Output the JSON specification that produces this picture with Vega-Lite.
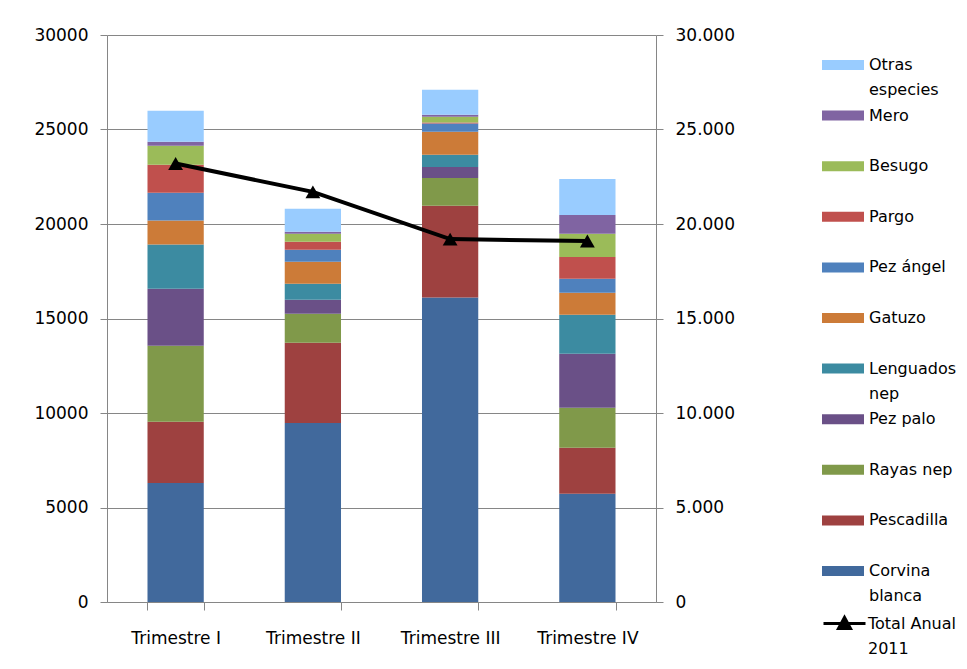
{
  "$schema": "https://vega.github.io/schema/vega-lite/v6.json",
  "width": 549,
  "height": 567,
  "autosize": {"type": "none"},
  "padding": {"left": 107, "top": 35, "right": 311, "bottom": 67},
  "background": "white",
  "config": {
    "font": "DejaVu Sans",
    "view": {"stroke": null},
    "style": {"guide-label": {"lineHeight": 25}},
    "axis": {
      "labelFont": "DejaVu Sans",
      "labelFontSize": 17,
      "labelColor": "#000000",
      "domainColor": "#868686",
      "tickColor": "#868686",
      "gridColor": "#868686",
      "gridOpacity": 1,
      "tickSize": 7,
      "title": null
    },
    "legend": {
      "orient": "none",
      "padding": 0,
      "labelFont": "DejaVu Sans",
      "labelFontSize": 16,
      "labelColor": "#000000",
      "labelLimit": 0,
      "rowPadding": 7.6,
      "labelOffset": 16,
      "symbolSize": 400,
      "title": null
    }
  },
  "datasets": {
    "especies": [
      {"trimestre": "Trimestre I", "especie": "Corvina blanca", "orden": 1, "toneladas": 6300},
      {"trimestre": "Trimestre I", "especie": "Pescadilla", "orden": 2, "toneladas": 3240},
      {"trimestre": "Trimestre I", "especie": "Rayas nep", "orden": 3, "toneladas": 4020},
      {"trimestre": "Trimestre I", "especie": "Pez palo", "orden": 4, "toneladas": 3020},
      {"trimestre": "Trimestre I", "especie": "Lenguados nep", "orden": 5, "toneladas": 2330},
      {"trimestre": "Trimestre I", "especie": "Gatuzo", "orden": 6, "toneladas": 1270},
      {"trimestre": "Trimestre I", "especie": "Pez ángel", "orden": 7, "toneladas": 1480},
      {"trimestre": "Trimestre I", "especie": "Pargo", "orden": 8, "toneladas": 1480},
      {"trimestre": "Trimestre I", "especie": "Besugo", "orden": 9, "toneladas": 1000},
      {"trimestre": "Trimestre I", "especie": "Mero", "orden": 10, "toneladas": 210},
      {"trimestre": "Trimestre I", "especie": "Otras especies", "orden": 11, "toneladas": 1640},
      {"trimestre": "Trimestre II", "especie": "Corvina blanca", "orden": 1, "toneladas": 9470},
      {"trimestre": "Trimestre II", "especie": "Pescadilla", "orden": 2, "toneladas": 4250},
      {"trimestre": "Trimestre II", "especie": "Rayas nep", "orden": 3, "toneladas": 1530},
      {"trimestre": "Trimestre II", "especie": "Pez palo", "orden": 4, "toneladas": 740},
      {"trimestre": "Trimestre II", "especie": "Lenguados nep", "orden": 5, "toneladas": 850},
      {"trimestre": "Trimestre II", "especie": "Gatuzo", "orden": 6, "toneladas": 1160},
      {"trimestre": "Trimestre II", "especie": "Pez ángel", "orden": 7, "toneladas": 640},
      {"trimestre": "Trimestre II", "especie": "Pargo", "orden": 8, "toneladas": 420},
      {"trimestre": "Trimestre II", "especie": "Besugo", "orden": 9, "toneladas": 420},
      {"trimestre": "Trimestre II", "especie": "Mero", "orden": 10, "toneladas": 110},
      {"trimestre": "Trimestre II", "especie": "Otras especies", "orden": 11, "toneladas": 1220},
      {"trimestre": "Trimestre III", "especie": "Corvina blanca", "orden": 1, "toneladas": 16110},
      {"trimestre": "Trimestre III", "especie": "Pescadilla", "orden": 2, "toneladas": 4850},
      {"trimestre": "Trimestre III", "especie": "Rayas nep", "orden": 3, "toneladas": 1480},
      {"trimestre": "Trimestre III", "especie": "Pez palo", "orden": 4, "toneladas": 580},
      {"trimestre": "Trimestre III", "especie": "Lenguados nep", "orden": 5, "toneladas": 640},
      {"trimestre": "Trimestre III", "especie": "Gatuzo", "orden": 6, "toneladas": 1220},
      {"trimestre": "Trimestre III", "especie": "Pez ángel", "orden": 7, "toneladas": 440},
      {"trimestre": "Trimestre III", "especie": "Pargo", "orden": 8, "toneladas": 50},
      {"trimestre": "Trimestre III", "especie": "Besugo", "orden": 9, "toneladas": 300},
      {"trimestre": "Trimestre III", "especie": "Mero", "orden": 10, "toneladas": 110},
      {"trimestre": "Trimestre III", "especie": "Otras especies", "orden": 11, "toneladas": 1320},
      {"trimestre": "Trimestre IV", "especie": "Corvina blanca", "orden": 1, "toneladas": 5730},
      {"trimestre": "Trimestre IV", "especie": "Pescadilla", "orden": 2, "toneladas": 2430},
      {"trimestre": "Trimestre IV", "especie": "Rayas nep", "orden": 3, "toneladas": 2120},
      {"trimestre": "Trimestre IV", "especie": "Pez palo", "orden": 4, "toneladas": 2860},
      {"trimestre": "Trimestre IV", "especie": "Lenguados nep", "orden": 5, "toneladas": 2060},
      {"trimestre": "Trimestre IV", "especie": "Gatuzo", "orden": 6, "toneladas": 1160},
      {"trimestre": "Trimestre IV", "especie": "Pez ángel", "orden": 7, "toneladas": 740},
      {"trimestre": "Trimestre IV", "especie": "Pargo", "orden": 8, "toneladas": 1160},
      {"trimestre": "Trimestre IV", "especie": "Besugo", "orden": 9, "toneladas": 1220},
      {"trimestre": "Trimestre IV", "especie": "Mero", "orden": 10, "toneladas": 1000},
      {"trimestre": "Trimestre IV", "especie": "Otras especies", "orden": 11, "toneladas": 1900}
    ],
    "total": [
      {"trimestre": "Trimestre I", "serie": "Total Anual 2011", "total": 23200},
      {"trimestre": "Trimestre II", "serie": "Total Anual 2011", "total": 21700},
      {"trimestre": "Trimestre III", "serie": "Total Anual 2011", "total": 19200},
      {"trimestre": "Trimestre IV", "serie": "Total Anual 2011", "total": 19100}
    ]
  },
  "layer": [
    {
      "data": {"name": "especies"},
      "mark": {"type": "bar"},
      "encoding": {
        "x": {
          "field": "trimestre",
          "type": "nominal",
          "sort": ["Trimestre I", "Trimestre II", "Trimestre III", "Trimestre IV"],
          "scale": {"paddingInner": 0.59, "paddingOuter": 0.295},
          "axis": {"labelAngle": 0, "tickBand": "extent", "labelPadding": 20, "tickSize": 8, "grid": false}
        },
        "y": {
          "field": "toneladas",
          "type": "quantitative",
          "stack": "zero",
          "scale": {"domain": [0, 30000], "nice": false},
          "axis": {"values": [0, 5000, 10000, 15000, 20000, 25000, 30000], "format": "d", "grid": true, "labelPadding": 12, "orient": "left"}
        },
        "color": {
          "field": "especie",
          "type": "nominal",
          "scale": {
            "domain": ["Otras especies", "Mero", "Besugo", "Pargo", "Pez ángel", "Gatuzo", "Lenguados nep", "Pez palo", "Rayas nep", "Pescadilla", "Corvina blanca"],
            "range": ["#99CCFF", "#8064A2", "#9BBB59", "#C0504D", "#4F81BD", "#CC7B38", "#3C8BA1", "#6A5087", "#80994A", "#9E4140", "#41699C"]
          },
          "legend": {
            "legendX": 726,
            "legendY": 20,
            "symbolType": "M-2.1,-0.5L2.1,-0.5L2.1,0.5L-2.1,0.5Z",
            "symbolStrokeWidth": 0,
            "labelBaseline": "middle",
            "labelExpr": "datum.label == 'Otras especies' ? ['Otras', 'especies'] : datum.label == 'Lenguados nep' ? ['Lenguados', 'nep'] : datum.label == 'Corvina blanca' ? ['Corvina', 'blanca'] : [datum.label, ' ']"
          }
        },
        "order": {"field": "orden", "type": "quantitative"}
      }
    },
    {
      "data": {"name": "total"},
      "encoding": {
        "x": {"field": "trimestre", "type": "nominal", "sort": ["Trimestre I", "Trimestre II", "Trimestre III", "Trimestre IV"]},
        "y": {
          "field": "total",
          "type": "quantitative",
          "scale": {"domain": [0, 30000], "nice": false},
          "axis": {"orient": "right", "values": [0, 5000, 10000, 15000, 20000, 25000, 30000], "labelExpr": "replace(format(datum.value, ','), ',', '.')", "grid": false, "labelPadding": 12}
        }
      },
      "layer": [
        {
          "mark": {"type": "line", "strokeWidth": 4},
          "encoding": {
            "stroke": {
              "field": "serie",
              "type": "nominal",
              "scale": {"range": ["#000000"]},
              "legend": {
                "legendX": 726,
                "legendY": 577,
                "symbolType": "M-2.1,0L2.1,0M-0.6,0.5L0,-0.6L0.6,0.5Z",
                "symbolFillColor": "#000000",
                "symbolStrokeColor": "#000000",
                "symbolStrokeWidth": 3,
                "labelOffset": 12,
                "labelBaseline": "middle",
                "labelExpr": "['Total Anual', '2011']"
              }
            }
          }
        },
        {
          "mark": {"type": "point", "shape": "triangle-up", "filled": true, "color": "#000000", "size": 220, "opacity": 1},
          "encoding": {}
        }
      ]
    }
  ],
  "resolve": {"scale": {"y": "independent"}}
}
